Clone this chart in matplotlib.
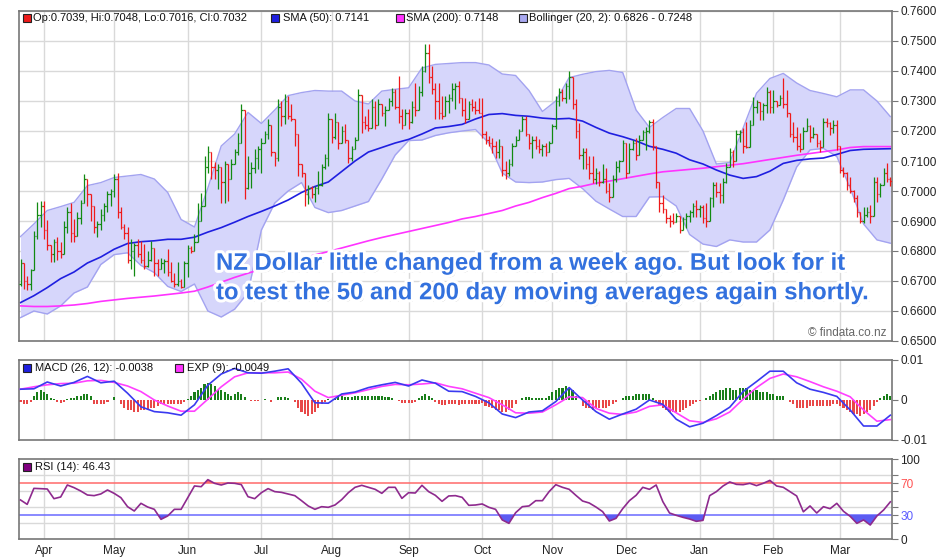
import numpy as np
import pandas as pd
import matplotlib
matplotlib.use("Agg")
import matplotlib.pyplot as plt
import matplotlib.patheffects as pe
from matplotlib.patches import Rectangle

# ---------------- data (prices in pips, 1 pip = 0.0001) ----------------
dates = pd.bdate_range("2016-03-23", "2017-03-22")
first_open = 6690

close = [6760, 6700, 6690, 6735, 6850, 6920, 6950, 6870, 6820, 6790,
         6830, 6800, 6790, 6880, 6930, 6860, 6850, 6910, 6960, 7040,
         6990, 6950, 6880, 6890, 6920, 6950, 6990, 7000, 7040, 6930,
         6880, 6860, 6770, 6800, 6820, 6790, 6770, 6750, 6770, 6810,
         6760, 6740, 6760, 6765, 6730, 6700, 6690, 6700, 6680, 6760,
         6810, 6800, 6830, 6900, 6950, 7080, 7130, 7080, 7070, 7080,
         7030, 7090, 7040, 7090, 7130, 7160, 7270, 7010, 7060, 7075,
         7110, 7140, 7160, 7190, 7220, 7130, 7110, 7280, 7250, 7300,
         7250, 7240, 7190, 7090, 7060, 6990, 7010, 6990, 7010, 7020,
         7080, 7110, 7240, 7180, 7230, 7160, 7200, 7170, 7110, 7140,
         7170, 7320, 7230, 7220, 7210, 7280, 7220, 7290, 7260, 7270,
         7300, 7330, 7280, 7250, 7220, 7260, 7230, 7280, 7270, 7330,
         7400, 7460, 7380, 7340, 7300, 7260, 7250, 7300, 7310, 7340,
         7350, 7310, 7270, 7240, 7290, 7280, 7270, 7260, 7190, 7170,
         7160, 7150, 7130, 7150, 7070, 7060, 7090, 7150, 7170, 7200,
         7240, 7190, 7160, 7170, 7150, 7140, 7150, 7130, 7160, 7215,
         7300, 7330, 7310, 7350, 7380, 7290, 7200, 7120, 7130, 7090,
         7060, 7040, 7060, 7030, 7040, 7000, 6980, 7040, 7080, 7100,
         7160, 7060, 7140, 7160, 7120, 7170, 7195, 7200, 7230, 7150,
         7030, 6960, 6940, 6910, 6900, 6895, 6915, 6870, 6905, 6915,
         6930, 6950, 6940, 6945, 6910, 6900, 6975, 7020, 6995, 6985,
         7030, 7080, 7130, 7100, 7190, 7195, 7150, 7145, 7220, 7280,
         7295, 7265, 7285, 7330, 7280, 7300, 7285, 7310, 7290, 7260,
         7190, 7180, 7150, 7140, 7200, 7215, 7180, 7190, 7160, 7145,
         7230, 7225, 7210, 7220, 7150, 7070, 7060, 7020, 7000, 6975,
         6930, 6900, 6920, 6930, 6915, 7030, 6990, 7020, 7060, 7039,
         7032]

high = [6772, 6760, 6715, 6741, 6867, 6964, 6966, 6966, 6902, 6817,
        6839, 6845, 6830, 6900, 6945, 6960, 6905, 6930, 6970, 7056,
        7040, 6990, 6950, 6900, 6940, 6960, 7000, 7005, 7056, 7060,
        6945, 6890, 6880, 6839, 6826, 6839, 6833, 6822, 6800, 6833,
        6805, 6772, 6778, 6772, 6806, 6763, 6725, 6763, 6706, 6767,
        6820, 6817, 6855, 6961, 6994, 7117, 7150, 7117, 7095, 7090,
        7061, 7100, 7090, 7106, 7140, 7194, 7289, 7211, 7117, 7095,
        7139, 7150, 7178, 7200, 7239, 7160, 7130, 7306, 7300, 7322,
        7317, 7289, 7240, 7150, 7066, 7061, 7020, 7017, 7017, 7067,
        7089, 7122, 7261, 7228, 7261, 7206, 7217, 7222, 7161, 7150,
        7180, 7339, 7311, 7250, 7272, 7306, 7300, 7306, 7272, 7283,
        7311, 7344, 7339, 7383, 7272, 7272, 7272, 7300, 7361, 7350,
        7417, 7489, 7489, 7417, 7361, 7361, 7317, 7317, 7322, 7361,
        7361, 7367, 7311, 7311, 7300, 7306, 7300, 7311, 7311, 7200,
        7183, 7178, 7167, 7172, 7128, 7100, 7106, 7161, 7183, 7206,
        7250, 7250, 7189, 7183, 7183, 7172, 7156, 7161, 7167, 7222,
        7317, 7344, 7339, 7361, 7400, 7378, 7306, 7228, 7144, 7144,
        7117, 7117, 7078, 7067, 7089, 7076, 7026, 7053, 7100, 7103,
        7170, 7126, 7159, 7170, 7176, 7187, 7203, 7214, 7237, 7240,
        7150, 7030, 6987, 6940, 6920, 6926, 6926, 6909, 6914, 6926,
        6937, 6959, 6970, 6953, 6953, 6959, 6981, 7031, 7031, 7026,
        7042, 7092, 7142, 7137, 7203, 7203, 7209, 7231, 7237, 7314,
        7303, 7292, 7292, 7348, 7337, 7337, 7292, 7320, 7376, 7337,
        7253, 7231, 7214, 7192, 7214, 7242, 7220, 7214, 7187, 7170,
        7242, 7242, 7231, 7237, 7237, 7137, 7081, 7064, 7048, 7003,
        6987, 6926, 6948, 6948, 6953, 7048, 7048, 7026, 7075, 7092,
        7048]

low = [6683, 6672, 6670, 6670, 6739, 6839, 6880, 6839, 6803, 6764,
       6764, 6770, 6775, 6794, 6860, 6830, 6830, 6850, 6890, 6972,
       6950, 6900, 6860, 6845, 6870, 6900, 6930, 6950, 6980, 6910,
       6872, 6840, 6760, 6739, 6717, 6780, 6760, 6740, 6745, 6766,
       6717, 6717, 6739, 6728, 6717, 6695, 6680, 6683, 6675, 6712,
       6712, 6794, 6800, 6839, 6900, 6950, 7060, 7039, 7040, 7006,
       6961, 6960, 6967, 7070, 7090, 7120, 7172, 6974, 7006, 7011,
       7060, 7072, 7061, 7166, 7172, 7117, 7083, 7100, 7217, 7222,
       7239, 7233, 7150, 7050, 7045, 6950, 6956, 6978, 6962, 6989,
       7017, 7072, 7083, 7161, 7172, 7139, 7172, 7161, 7094, 7100,
       7150, 7172, 7194, 7206, 7200, 7217, 7206, 7250, 7250, 7217,
       7272, 7283, 7272, 7228, 7206, 7222, 7206, 7228, 7250, 7283,
       7317, 7395, 7361, 7322, 7239, 7239, 7239, 7272, 7261, 7300,
       7272, 7294, 7250, 7228, 7239, 7267, 7256, 7261, 7178, 7156,
       7150, 7128, 7111, 7111, 7050, 7039, 7050, 7083, 7150, 7172,
       7206, 7183, 7139, 7111, 7139, 7128, 7117, 7117, 7139, 7167,
       7206, 7283, 7300, 7294, 7306, 7272, 7178, 7106, 7072, 7072,
       7039, 7028, 7022, 7017, 7026, 6992, 6964, 6987, 7031, 7064,
       7103, 7042, 7070, 7137, 7103, 7126, 7170, 7137, 7192, 7137,
       7009, 6931, 6926, 6892, 6881, 6890, 6903, 6859, 6881, 6875,
       6898, 6914, 6914, 6914, 6892, 6881, 6948, 6948, 6981, 6959,
       6959, 7026, 7087, 7081, 7103, 7164, 7126, 7142, 7181, 7226,
       7259, 7237, 7237, 7259, 7259, 7259, 7281, 7287, 7276, 7248,
       7181, 7164, 7137, 7131, 7164, 7203, 7164, 7176, 7148, 7131,
       7170, 7214, 7187, 7192, 7137, 7059, 7048, 7003, 6992, 6964,
       6914, 6892, 6892, 6914, 6892, 6920, 6964, 6981, 7026, 7031,
       7016]

# indicator lines, read every 4th trading day
boll_upper = [6848, 6890, 6935, 6948, 6962, 7018, 7028, 7045, 7050, 7055, 7040,
              6995, 6905, 6880, 7010, 7150, 7190, 7262, 7225, 7270, 7318, 7328,
              7335, 7333, 7333, 7300, 7290, 7333, 7339, 7344, 7410, 7422, 7425,
              7428, 7428, 7420, 7390, 7385, 7335, 7265, 7300, 7378, 7389, 7398,
              7402, 7395, 7270, 7212, 7245, 7275, 7275, 7200, 7090, 7095, 7210,
              7326, 7375, 7392, 7360, 7335, 7325, 7314, 7337, 7337, 7300, 7248]
boll_lower = [6578, 6600, 6590, 6617, 6660, 6680, 6755, 6788, 6794, 6752, 6728,
              6682, 6665, 6690, 6600, 6580, 6606, 6661, 6870, 6960, 7000, 7028,
              6945, 6928, 6935, 6950, 6965, 7040, 7120, 7168, 7170, 7185, 7194,
              7200, 7205, 7160, 7060, 7030, 7028, 7030, 7038, 7042, 7008, 6966,
              6940, 6915, 6915, 6980, 6981, 6950, 6855, 6823, 6815, 6837, 6830,
              6830, 6870, 6970, 7080, 7137, 7142, 7115, 7010, 6890, 6837, 6826]
sma50 = [6628, 6651, 6678, 6708, 6730, 6760, 6780, 6806, 6825, 6831, 6834,
         6839, 6839, 6846, 6863, 6878, 6896, 6915, 6932, 6950, 6970, 6995,
         7015, 7030, 7065, 7100, 7130, 7145, 7160, 7172, 7190, 7210, 7215,
         7222, 7240, 7255, 7258, 7252, 7249, 7243, 7240, 7242, 7233, 7212,
         7193, 7181, 7167, 7149, 7139, 7126, 7104, 7090, 7070, 7053, 7042,
         7048, 7066, 7092, 7102, 7107, 7110, 7122, 7135, 7139, 7140, 7141]
sma200 = [6617, 6615, 6615, 6617, 6620, 6625, 6632, 6637, 6642, 6646, 6650,
          6655, 6660, 6666, 6680, 6696, 6712, 6726, 6740, 6752, 6763, 6775,
          6787, 6798, 6810, 6822, 6834, 6845, 6855, 6865, 6875, 6885, 6895,
          6907, 6915, 6925, 6935, 6950, 6962, 6978, 6992, 7008, 7016, 7026,
          7033, 7041, 7049, 7057, 7064, 7068, 7072, 7076, 7081, 7086, 7091,
          7098, 7105, 7112, 7119, 7125, 7131, 7137, 7145, 7148, 7148, 7148]

# MACD (units of 0.0001), every 4th day
macd = [27, 28, 45, 35, 44, 59, 43, 47, 17, -17, -29, -32, -38, -12, 37, 65,
        79, 68, 67, 72, 78, 42, -7, -8, 15, 20, 31, 38, 44, 35, 50, 42, 22,
        21, 9, -7, -35, -44, -30, -27, -4, 31, 0, -29, -48, -35, -23, 0, -11,
        -48, -67, -58, -39, -18, 21, 46, 72, 72, 43, 27, 19, 9, -25, -65, -65,
        -38]
signal = [27, 33, 38, 41, 42, 48, 49, 44, 35, 21, 0, -15, -28, -28, 2, 33,
          58, 68, 68, 68, 70, 52, 22, 6, 12, 18, 26, 34, 39, 38, 40, 43, 34,
          28, 17, 6, -12, -32, -33, -30, -12, 8, 6, -21, -33, -36, -30, -16,
          -12, -32, -52, -56, -47, -30, 2, 31, 54, 65, 58, 46, 33, 22, 8, -25,
          -53, -49]
# MACD histogram (units of 0.001), every day
hist = [-0.5, -1, -1, -0.5, 1, 2, 2.5, 2, 1.5, 0.5,
        0.3, -0.5, -0.8, -0.5, 0.3, 0.5, 0.5, 1, 1, 1.5,
        1.5, 1, -1, -1, -1, -1, -0.5, 0, 0.8, 0,
        -1, -2, -2.5, -2.5, -3, -3, -2.5, -2.5, -2.5, -2,
        -2, -1.5, -1, -1, -1, -1, -1, -1, -1, -0.5,
        0.3, 1, 2, 2.5, 3, 4, 4.2, 4, 3.5, 2.5,
        2.5, 2, 1.5, 1, 1.5, 2, 1.5, 0.8, 0, -0.3,
        -0.3, -0.3, 0, 0.3, 0, -0.5, 0, 0.8, 0.8, 0.8,
        0.5, 0, -0.5, -2, -3, -3.5, -4, -3.5, -3, -2,
        -1, -0.5, 0.3, 0, 0.5, 1, 1, 0.8, 0.8, 0.8,
        1, 1, 1, 1, 1, 1, 1, 1, 1, 0.8,
        0.8, 0.5, 0, -0.3, -0.8, -0.8, -0.8, -0.8, -0.5, 0.5,
        1, 1.5, 1, 0.5, -0.5, -1, -1.2, -1.2, -1, -1,
        -1, -1.2, -1, -1, -1, -1, -1, -1, -0.8, -1.5,
        -1.8, -2, -2.5, -2.5, -3, -3, -2.5, -2, -1, 0,
        0.5, 0.8, 0.8, 0.5, 0.5, 0.5, 0.5, 0.5, 1, 2,
        2.5, 3, 3, 3.5, 3, 2.5, 1, 0, -1.5, -2,
        -2, -2.5, -2, -2, -2, -2, -1.5, -1, -0.5, 0,
        0.5, 1, 1, 1, 1.5, 1.5, 1.5, 1.5, 1.5, 0.5,
        -0.5, -1.5, -2, -2.5, -3, -3, -3, -3, -2.5, -2,
        -1.5, -1, -0.5, -0.3, 0, 0.5, 1, 1.5, 2, 2.5,
        2.5, 3, 3, 2.5, 2.5, 3, 3, 3, 2.5, 2.5,
        2.5, 2, 2, 2, 1.5, 1.5, 1, 1, 1, 0,
        -0.5, -1, -2, -2, -2, -2, -1.5, -1.5, -1.5, -1.5,
        -1.5, -1.5, -1.5, -1, -1, -1.5, -2, -2.5, -3, -3.5,
        -3.5, -4, -3.5, -3, -2.5, -1.5, -0.5, 0.5, 1, 1.5,
        1.1]

# RSI (14), every 2nd day
rsi = [48.8, 43.3, 63.3, 62.9, 62.5, 50.4, 52.5, 67.5, 64.2, 60.0, 55.0,
       54.2, 56.3, 61.3, 57.0, 51.7, 40.4, 35.0, 44.6, 40.0, 37.1, 24.6,
       28.8, 37.1, 37.1, 51.7, 66.3, 65.4, 74.2, 69.6, 67.5, 70.0, 69.6,
       68.0, 52.9, 50.4, 57.9, 63.0, 59.2, 58.3, 56.3, 54.2, 47.9, 41.3,
       37.1, 40.4, 39.6, 42.5, 49.2, 57.9, 64.6, 67.1, 64.6, 62.1, 57.1,
       64.6, 64.6, 50.8, 57.9, 57.5, 67.1, 59.2, 54.6, 47.1, 53.8, 54.2,
       52.1, 42.1, 42.5, 43.8, 39.6, 37.1, 23.8, 19.6, 32.9, 40.4, 41.3,
       47.9, 47.9, 59.2, 67.9, 64.6, 62.1, 54.6, 47.5, 45.0, 40.0, 34.2,
       22.5, 25.8, 37.9, 47.9, 54.6, 64.6, 62.1, 67.5, 46.7, 32.5, 29.6,
       27.1, 25.0, 22.1, 23.3, 54.2, 59.2, 66.3, 71.3, 68.3, 67.9, 69.6,
       66.7, 69.6, 73.3, 66.3, 64.6, 59.2, 53.8, 34.0, 41.3, 32.5, 40.4,
       37.9, 44.6, 34.6, 28.3, 19.6, 23.8, 17.5, 28.8, 36.3, 46.43]

price_ticks = [0.65, 0.66, 0.67, 0.68, 0.69, 0.70, 0.71, 0.72, 0.73, 0.74, 0.75, 0.76]
month_labels = ["Apr", "May", "Jun", "Jul", "Aug", "Sep", "Oct", "Nov", "Dec", "Jan", "Feb", "Mar"]

annotation = ("NZ Dollar little changed from a week ago. But look for it\n"
              "to test the 50 and 200 day moving averages again shortly.")

# ---------------- derived arrays ----------------
P = 1e-4
c = np.array(close) * P
h = np.array(high) * P
l = np.array(low) * P
o = np.r_[first_open * P, c[:-1]]
h = np.maximum(h, np.maximum(o, c))
l = np.minimum(l, np.minimum(o, c))
n = len(c)
x = np.arange(n)
x4 = np.arange(0, n, 4)
x2 = np.arange(0, n, 2)
up = np.array(boll_upper) * P
lo = np.array(boll_lower) * P
s50 = np.array(sma50) * P
s200 = np.array(sma200) * P
mc = np.array(macd) * P
sg = np.array(signal) * P
hs = np.array(hist) * 1e-3
rs = np.array(rsi)

months = pd.Series(dates.month)
month_idx = [i for i in range(1, n) if months[i] != months[i - 1]]

# ---------------- figure ----------------
W, H = 940, 560
plt.rcParams["font.family"] = ["Liberation Sans", "DejaVu Sans"]
fig = plt.figure(figsize=(W / 100, H / 100), dpi=100)
fig.patch.set_facecolor("white")

def px_axes(x0, y0, x1, y1):
    return fig.add_axes([x0 / W, 1 - y1 / H, (x1 - x0) / W, (y1 - y0) / H])

XL, XR = 19, 892
ax = px_axes(XL, 11, XR, 341)
axm = px_axes(XL, 360, XR, 440)
axr = px_axes(XL, 459, XR, 539)

GRID = "#d9d9d9"
SPINE = "#777777"
xlim = (-0.45, 260.5)

for a in (ax, axm, axr):
    a.set_xlim(*xlim)
    a.yaxis.tick_right()
    a.tick_params(axis="y", which="both", length=4, width=0.8, color=SPINE,
                  labelsize=8.5, pad=2, labelcolor="#222222")
    a.tick_params(axis="x", length=0, labelsize=8.5, labelcolor="#222222", pad=4)
    for s in a.spines.values():
        s.set_color(SPINE)
        s.set_linewidth(1.2)
    a.set_xticks(month_idx)
    a.set_xticklabels([])
    for mi in month_idx:
        a.axvline(mi, color=GRID, lw=1.0, zorder=0)
    a.set_facecolor("white")

# ---- main price panel ----
ax.set_ylim(0.65, 0.76)
ax.set_yticks(price_ticks)
ax.set_yticklabels([f"{t:.4f}" for t in price_ticks])
for t in price_ticks:
    ax.axhline(t, color=GRID, lw=1.0, zorder=0)

ax.fill_between(x4, lo, up, color="#d6d6fb", zorder=1, lw=0)
ax.plot(x4, up, color="#a3a3f0", lw=1.0, zorder=1.5)
ax.plot(x4, lo, color="#a3a3f0", lw=1.0, zorder=1.5)
ax.plot(x4, s200, color="#ff33ff", lw=1.2, zorder=2)
ax.plot(x4, s50, color="#1f1fe0", lw=1.2, zorder=2.1)

GREEN, RED = "#128a12", "#ee1a1a"
cols = np.where(c >= o, GREEN, RED)
ax.vlines(x, l, h, colors=cols, lw=0.9, zorder=3)
ax.hlines(o, x - 0.45, x, colors=cols, lw=0.9, zorder=3)
ax.hlines(c, x, x + 0.45, colors=cols, lw=0.9, zorder=3)

fig.text(216 / W, 1 - 278 / H, annotation, fontsize=17.2, fontweight="bold",
         color="#3371de", ha="left", va="center", linespacing=1.36,
         family=["Liberation Sans", "DejaVu Sans"],
         path_effects=[pe.SimplePatchShadow(offset=(1.5, -1.8), shadow_rgbFace="#7a7a7a", alpha=0.45),
                       pe.withStroke(linewidth=4.5, foreground="white")],
         zorder=10)

fig.text(886 / W, 1 - 333 / H, "\u00a9 findata.co.nz", fontsize=8.5,
         color="#666666", ha="right", va="center")

# ---- MACD panel ----
axm.set_ylim(-0.01, 0.01)
axm.set_yticks([-0.01, 0, 0.01])
axm.set_yticklabels(["-0.01", "0", "0.01"])
hcols = np.where(hs >= 0, "#1a7f1a", "#e84848")
axm.bar(x, hs, width=0.62, color=hcols, zorder=2, lw=0)
axm.plot(x4, sg, color="#ff40ff", lw=1.2, zorder=3)
axm.plot(x4, mc, color="#3a3af0", lw=1.2, zorder=4)

# ---- RSI panel ----
axr.set_ylim(0, 100)
rsi_ticks = [0, 20, 30, 40, 60, 70, 80, 100]
axr.set_yticks(rsi_ticks)
axr.set_yticklabels(["0", "", "30", "", "", "70", "", "100"])
for lab, t in zip(axr.get_yticklabels(), rsi_ticks):
    if t == 70:
        lab.set_color("#ff5050")
    elif t == 30:
        lab.set_color("#5a5aff")
for t in (20, 40, 60, 80):
    axr.axhline(t, color=GRID, lw=1.0, zorder=0)
axr.axhline(70, color="#ff6a6a", lw=1.1, zorder=1)
axr.axhline(30, color="#6a6aff", lw=1.1, zorder=1)
axr.fill_between(x2, rs, 30, where=rs < 30, interpolate=True, color="#5c5cf2", zorder=2, lw=0)
axr.fill_between(x2, rs, 70, where=rs > 70, interpolate=True, color="#ff6a6a", zorder=2, lw=0)
axr.plot(x2, rs, color="#8e2a8e", lw=1.2, zorder=3)
axr.set_xticklabels(month_labels)

# ---- legends ----
def square(px, py, color):
    fig.add_artist(Rectangle((px / W, 1 - (py + 4) / H), 8 / W, 8 / H, facecolor=color,
                             edgecolor="#222222", lw=0.8, transform=fig.transFigure))

def label(px, py, s):
    fig.text(px / W, 1 - py / H, s, fontsize=8, color="#111111", ha="left", va="center")

square(23, 18, "#ee1a1a")
label(33, 18, f"Op:{o[-1]:.4f}, Hi:{h[-1]:.4f}, Lo:{l[-1]:.4f}, Cl:{c[-1]:.4f}")
square(271, 18, "#1f1fe0")
label(283, 18, f"SMA (50): {s50[-1]:.4f}")
square(396, 18, "#ff33ff")
label(406, 18, f"SMA (200): {s200[-1]:.4f}")
square(519, 18, "#a8a8f0")
label(529, 18, f"Bollinger (20, 2): {lo[-1]:.4f} - {up[-1]:.4f}")

square(23, 368, "#1f1fe0")
label(35, 368, f"MACD (26, 12): {mc[-1]:.4f}")
square(175, 368, "#ff33ff")
label(187, 368, f"EXP (9): {sg[-1]:.4f}")

square(23, 467, "#800080")
label(35, 467, f"RSI (14): {rs[-1]:.2f}")

fig.savefig("out.png", dpi=100, facecolor="white")
